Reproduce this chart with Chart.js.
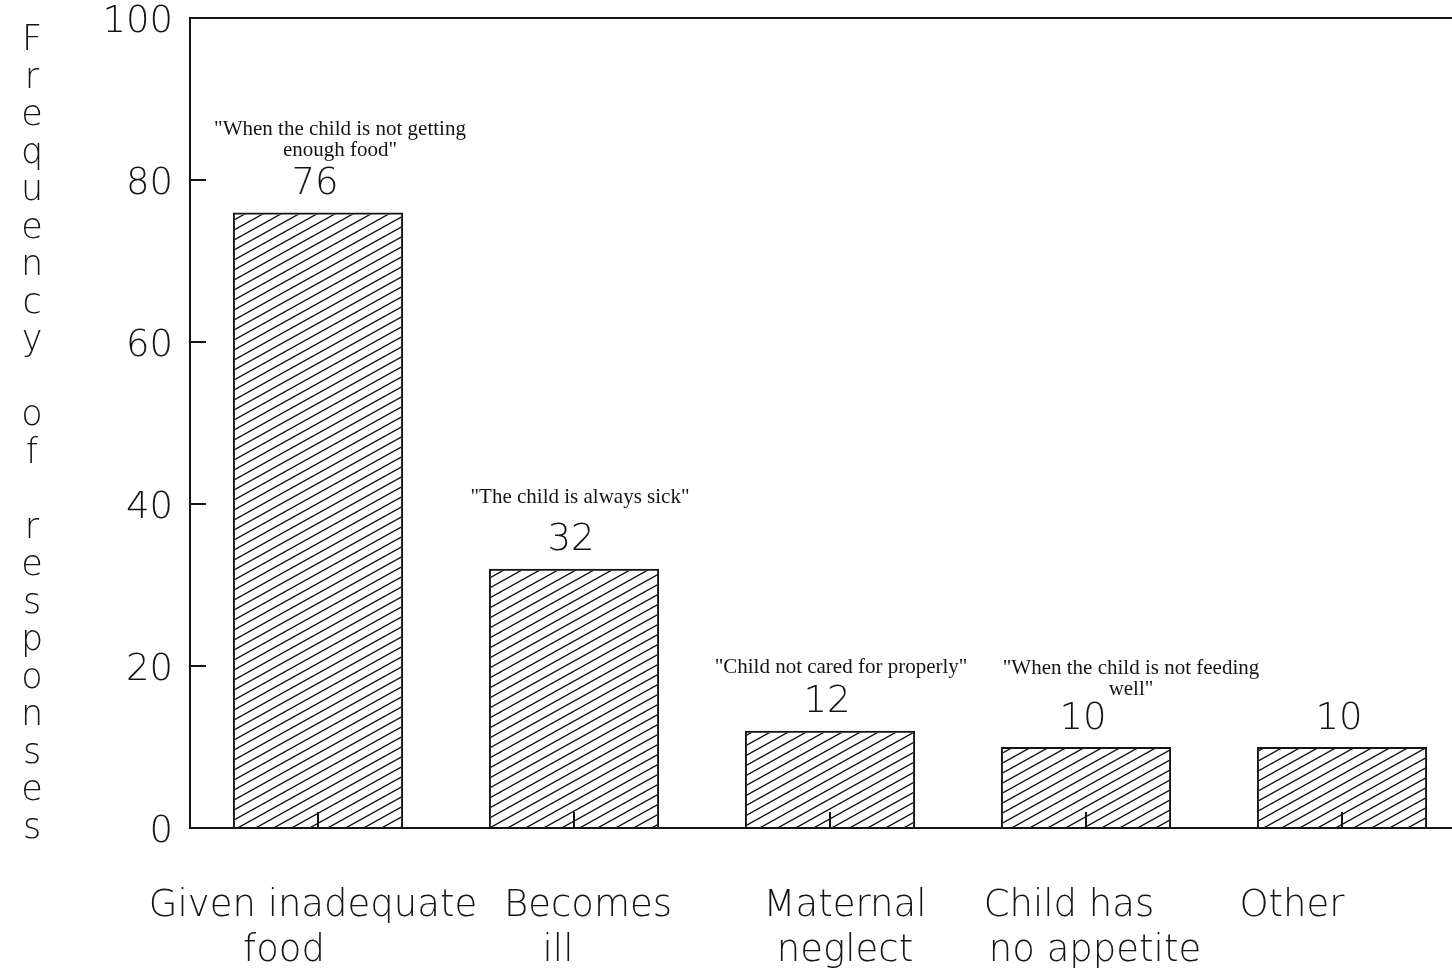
<!DOCTYPE html>
<html><head><meta charset="utf-8">
<script src="https://cdn.jsdelivr.net/npm/chart.js@4.4.1/dist/chart.umd.min.js"></script>
<style>html,body{margin:0;padding:0;background:#fff;overflow:hidden;width:1452px;height:969px}canvas{display:block}</style>
</head><body><canvas id="c" width="1470" height="969"></canvas>
<script>
const categories = [["Given inadequate","food"],["Becomes","ill"],["Maternal","neglect"],["Child has","no appetite"],["Other"]];
const frequencies = [76, 32, 12, 10, 10];
const quotes = [['"When the child is not getting','enough food"'],['"The child is always sick"'],['"Child not cared for properly"'],['"When the child is not feeding','well"'],[]];
const yTickValues = [0, 20, 40, 60, 80, 100];
const axisTitle = "Frequency of responses";

const SANS = '"DejaVu Sans"';
const INK = '#141414';

function hatch(){
  const c = document.createElement('canvas'); c.width = 18; c.height = 10;
  const g = c.getContext('2d'); g.strokeStyle = INK; g.lineWidth = 1.4;
  for (let k = -1; k <= 1; k++) {
    g.beginPath(); g.moveTo(-2, 10 + k*10 + 10/9); g.lineTo(20, k*10 - 10/9); g.stroke();
  }
  return g.createPattern(c, 'repeat');
}

const decor = {
  id: 'decor',
  afterDatasetsDraw(chart, args, opts){
    const {ctx, chartArea: a, scales: {x, y}} = chart;
    ctx.save();
    ctx.strokeStyle = INK; ctx.lineWidth = 2;
    ctx.beginPath(); ctx.moveTo(a.left, a.top); ctx.lineTo(a.right, a.top); ctx.stroke();
    y.ticks.forEach(t => {
      if (t.value > y.min && t.value < y.max) {
        const py = y.getPixelForValue(t.value);
        ctx.beginPath(); ctx.moveTo(a.left, py); ctx.lineTo(a.left + 16, py); ctx.stroke();
      }
    });
    x.ticks.forEach((t, i) => {
      const px = x.getPixelForTick(i);
      ctx.beginPath(); ctx.moveTo(px, a.bottom); ctx.lineTo(px, a.bottom - 16); ctx.stroke();
    });
    const meta = chart.getDatasetMeta(0);
    ctx.fillStyle = INK;
    meta.data.forEach((bar, i) => {
      const vy = bar.y - 28;
      ctx.font = '200 37px ' + SANS; ctx.textAlign = 'center'; ctx.textBaseline = 'middle';
      ctx.fillText(String(frequencies[i]), bar.x - 3, vy);
      const q = quotes[i];
      if (q.length) {
        ctx.font = '21px "Liberation Serif"';
        const lift = opts.quoteLift[i], nx = opts.quoteNudge[i];
        q.forEach((line, j) => {
          ctx.fillText(line, bar.x + nx, vy - lift - (q.length - 1 - j) * 21);
        });
      }
    });
    // category labels
    ctx.font = '200 37px ' + SANS; ctx.textAlign = 'center'; ctx.textBaseline = 'middle';
    categories.forEach((lines, i) => {
      const px = x.getPixelForValue(i);
      lines.forEach((line, j) => {
        ctx.fillText(line, px + opts.labelNudge[i][j], a.bottom + 78 + j * 45);
      });
    });
    // stacked axis title
    ctx.font = '200 35px ' + SANS;
    const chars = axisTitle.split('');
    chars.forEach((ch, k) => {
      if (ch !== ' ') ctx.fillText(ch, 32, a.top + 23 + k * 37.5);
    });
    ctx.restore();
  }
};

new Chart(document.getElementById('c'), {
  type: 'bar',
  data: {
    labels: categories,
    datasets: [{
      data: frequencies,
      backgroundColor: hatch(),
      borderColor: INK,
      borderWidth: 2,
      barPercentage: 0.665,
      categoryPercentage: 1
    }]
  },
  options: {
    responsive: false,
    animation: false,
    layout: { padding: { top: 18, left: 0, right: 0, bottom: 0 } },
    plugins: {
      legend: { display: false },
      tooltip: { enabled: false },
      decor: {
        quoteLift: [34, 43, 35, 30, 0],
        quoteNudge: [22, 6, 11, 45, 0],
        labelNudge: [[-5, -34], [14, -16], [15, 15], [-17, 9], [-50]]
      }
    },
    scales: {
      x: {
        grid: { display: false, drawTicks: false },
        border: { display: true, color: INK, width: 2 },
        ticks: { display: false },
        afterFit(s) { s.height = 141; s.paddingLeft = 0; s.paddingRight = 0; }
      },
      y: {
        min: 0, max: 100,
        afterBuildTicks(s) { s.ticks = yTickValues.map(v => ({ value: v })); },
        grid: { display: false, drawTicks: false },
        border: { display: true, color: INK, width: 2 },
        ticks: { color: INK, padding: 17, labelOffset: 4, font: { family: 'DejaVu Sans', size: 37, weight: '200' } },
        afterFit(s) { s.width = 190; s.paddingTop = 0; s.paddingBottom = 0; }
      }
    }
  },
  plugins: [decor]
});
</script>
</body></html>
